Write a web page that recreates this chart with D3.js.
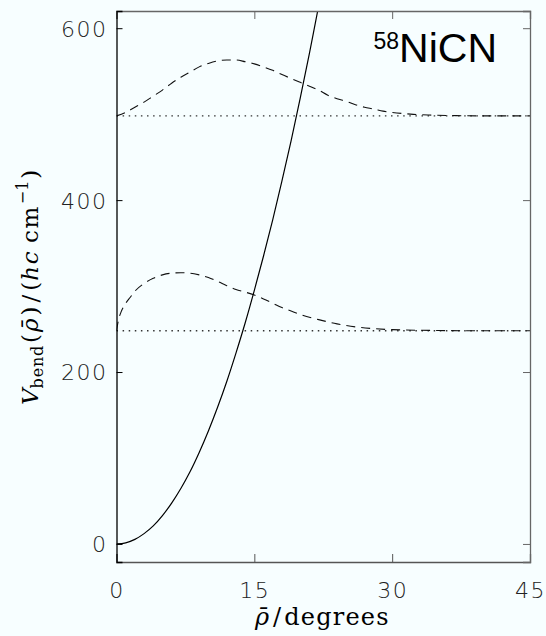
<!DOCTYPE html>
<html><head><meta charset="utf-8">
<script src="https://cdn.jsdelivr.net/npm/d3@7"></script>
<style>
html,body{margin:0;padding:0;background:#f7feff;}
svg{display:block;}
</style></head>
<body>
<script>
// ---- data ----
const xTicks = [0, 15, 30, 45];
const yTicks = [0, 200, 400, 600];
const potRho = [0,1,2,3,4,5,6,7,8,9,10,11,12,13,14,15,16,17,18,19,20,21,22];
const potV   = [0,1.3,5.3,12,21,33,47.5,64.5,84,106.5,131.5,159,189,222,257,295,335,377,422,469,519,571,626];
const lowRho = [0,0.25,0.5,1,1.5,2,3,4,5,6,7,8,9,10,11,12,13,14,15,16,17,18,19,20,22,24,26,28,30,35,40,45];
const lowV   = [248,262,270,280,287,294,303,309,313,315,315.5,315,313,310,305.5,300.5,296,293,289.5,285,280,275,271,267,261,256,252.5,250.5,249.3,248.3,248,248];
const upRho  = [0,1,2,3,4,5,6,7,8,9,10,11,12,13,14,15,16,17,18,19,20,21,22,23,24,25,26,27,28,29,30,32,34,37,40,45];
const upV    = [498,502,508,514,521,528,536,543,549,555,559,562,563,563,561,558.5,555,551,546,541.5,537,532.5,528,522,518,515,511,508,506,503.5,502,500,499,498.3,498,498];
const levels = [248, 498];

const W = 546, H = 636;
const L = 116.5, R = 530, T = 11, B = 562;
const svg = d3.select("body").append("svg").attr("width", W).attr("height", H);
svg.append("rect").attr("width", W).attr("height", H).attr("fill", "#f7feff");

const x = d3.scaleLinear().domain([0, 45]).range([L, R]);
const y = d3.scaleLinear().domain([-21, 620]).range([B, T]);

svg.append("defs").append("clipPath").attr("id", "clip")
  .append("rect").attr("x", L).attr("y", T).attr("width", R - L).attr("height", B - T);

const g = svg.append("g").attr("clip-path", "url(#clip)");
const line = d3.line().x(d => x(d[0])).y(d => y(d[1])).curve(d3.curveMonotoneX);

levels.forEach(v => {
  g.append("path").attr("d", line([[0, v], [45, v]]))
    .attr("fill", "none").attr("stroke", "#333").attr("stroke-width", 1.3)
    .attr("stroke-dasharray", "1.5,4.6");
});
g.append("path").attr("d", line(lowRho.map((r, i) => [r, lowV[i]])))
  .attr("fill", "none").attr("stroke", "#111").attr("stroke-width", 1.1)
  .attr("stroke-dasharray", "9,6");
g.append("path").attr("d", line(upRho.map((r, i) => [r, upV[i]])))
  .attr("fill", "none").attr("stroke", "#111").attr("stroke-width", 1.1)
  .attr("stroke-dasharray", "9,6");
g.append("path").attr("d", d3.line().x(d => x(d[0])).y(d => y(d[1])).curve(d3.curveCatmullRom)(potRho.map((r, i) => [r, potV[i]])))
  .attr("fill", "none").attr("stroke", "#000").attr("stroke-width", 1.2);

// axes
const tickFont = "'DejaVu Sans', sans-serif";
const ax = svg.append("g");
const xb = d3.axisBottom(x).tickValues(xTicks).tickSize(-8).tickPadding(0).tickFormat(d3.format("d"));
const xt = d3.axisTop(x).tickValues(xTicks).tickSize(-8).tickFormat("");
const yl = d3.axisLeft(y).tickValues(yTicks).tickSize(-6).tickFormat(d3.format("d"));
const yr = d3.axisRight(y).tickValues(yTicks).tickSize(-7).tickFormat("");

function style(sel, col) {
  sel.select(".domain").attr("stroke", col).attr("stroke-width", 1.3);
  sel.selectAll(".tick line").attr("stroke", col).attr("stroke-width", 1);
}
const gxb = ax.append("g").attr("transform", `translate(0,${B})`).call(xb);
style(gxb, "#555");
gxb.selectAll(".tick text").attr("y", 36).attr("dy", 0)
  .attr("font-family", tickFont).attr("font-weight", 200).attr("font-size", 22)
  .attr("letter-spacing", 1.5).attr("fill", "#222");
const gxt = ax.append("g").attr("transform", `translate(0,${T})`).call(xt);
style(gxt, "#666");
const gyl = ax.append("g").attr("transform", `translate(${L},0)`).call(yl);
style(gyl, "#000");
gyl.selectAll(".tick text").attr("x", -9).attr("dy", "0.36em")
  .attr("font-family", tickFont).attr("font-weight", 200).attr("font-size", 22)
  .attr("letter-spacing", 1.5).attr("fill", "#222");
const gyr = ax.append("g").attr("transform", `translate(${R},0)`).call(yr);
style(gyr, "#666");
svg.selectAll(".domain").attr("fill", "none");

// title
const title = svg.append("text").attr("x", 497).attr("y", 62).attr("text-anchor", "end")
  .attr("font-family", "'Liberation Sans', Arial, sans-serif").attr("fill", "#000");
title.append("tspan").attr("font-size", 23).attr("dy", -13).text("58");
title.append("tspan").attr("font-size", 41).attr("dy", 13).text("NiCN");

// x label
const serif = "'DejaVu Serif', serif";
const xl = svg.append("text").attr("x", 255).attr("y", 625).attr("text-anchor", "start")
  .attr("font-family", serif).attr("font-size", 24).attr("font-weight", 300).attr("fill", "#000");
xl.append("tspan").attr("font-style", "italic").text("\u03C1\u0304");
xl.append("tspan").attr("dx", 4).text("/");
xl.append("tspan").attr("dx", 3).attr("letter-spacing", 1.2).text("degrees");

// y label
const ylab = svg.append("text").attr("transform", "translate(38,405) rotate(-90)")
  .attr("text-anchor", "start").attr("font-family", serif).attr("font-size", 23)
  .attr("font-weight", 300).attr("fill", "#000");
ylab.append("tspan").attr("font-style", "italic").text("V");
ylab.append("tspan").attr("font-size", 16).attr("dy", 5).attr("letter-spacing", 0.8).text("bend");
ylab.append("tspan").attr("dy", -5).attr("dx", 2).text("(");
ylab.append("tspan").attr("font-style", "italic").attr("dx", 2).text("\u03C1\u0304");
ylab.append("tspan").attr("dx", 3).text(")");
ylab.append("tspan").attr("dx", 4).text("/");
ylab.append("tspan").attr("dx", 4).text("(");
ylab.append("tspan").attr("font-style", "italic").attr("dx", 1).attr("letter-spacing", 1.5).text("hc");
ylab.append("tspan").attr("dx", 7).attr("letter-spacing", 1.5).text("cm");
ylab.append("tspan").attr("font-size", 16).attr("dy", -10).attr("dx", 1).text("\u22121");
ylab.append("tspan").attr("dy", 10).attr("dx", 2).text(")");
</script>
</body></html>
